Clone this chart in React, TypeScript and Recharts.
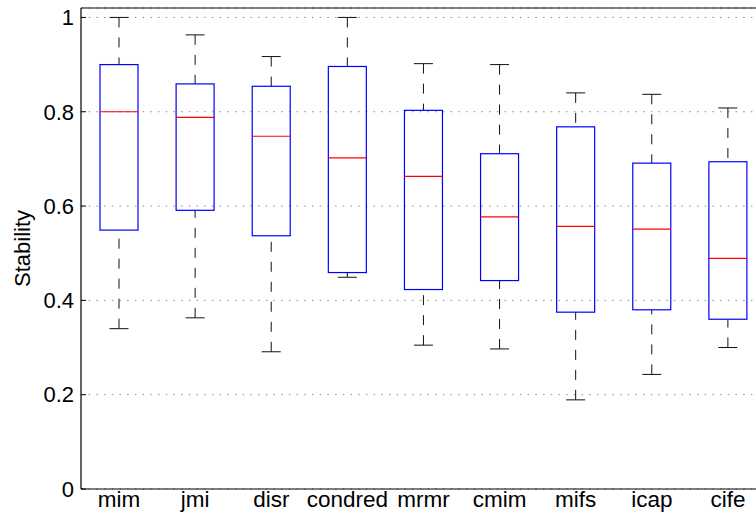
import { ComposedChart, Bar, XAxis, YAxis, CartesianGrid, ReferenceLine } from 'recharts'

const categories = ['mim', 'jmi', 'disr', 'condred', 'mrmr', 'cmim', 'mifs', 'icap', 'cife']
const lowerWhisker = [0.34, 0.363, 0.291, 0.449, 0.305, 0.297, 0.189, 0.243, 0.3]
const q1 = [0.549, 0.591, 0.537, 0.459, 0.423, 0.442, 0.375, 0.38, 0.36]
const median = [0.8, 0.788, 0.748, 0.702, 0.663, 0.577, 0.557, 0.551, 0.489]
const q3 = [0.9, 0.859, 0.854, 0.896, 0.803, 0.711, 0.768, 0.691, 0.694]
const upperWhisker = [1.0, 0.963, 0.917, 1.0, 0.902, 0.9, 0.84, 0.837, 0.808]
const yTicks = [0, 0.2, 0.4, 0.6, 0.8, 1]
const Y_MAX = 1.02

const data = categories.map((name, i) => ({
  name,
  lo: lowerWhisker[i],
  q1: q1[i],
  med: median[i],
  q3: q3[i],
  hi: upperWhisker[i],
}))

const FONT = '"Liberation Sans", Arial, Helvetica, sans-serif'

// box, median and whiskers; vertical positions come from the bar's own scaled box
function BoxShape(props: any) {
  const { x, y, width, height, payload } = props
  if (!payload || height == null) return null
  const top = Math.min(y, y + height)
  const h = Math.abs(height)
  const ppu = h / (payload.q3 - payload.q1)
  const yOf = (v: number) => top + (payload.q3 - v) * ppu
  const cx = x + width / 2
  const capHalf = width / 4
  const yHi = yOf(payload.hi)
  const yLo = yOf(payload.lo)
  const yMed = yOf(payload.med)
  const yBottom = top + h
  return (
    <g>
      <line x1={cx} x2={cx} y1={yHi} y2={top} stroke="#111" strokeWidth={1} strokeDasharray="10 10" />
      <line x1={cx} x2={cx} y1={yLo} y2={yBottom} stroke="#111" strokeWidth={1} strokeDasharray="10 10" />
      <line x1={cx - capHalf} x2={cx + capHalf} y1={yHi} y2={yHi} stroke="#111" strokeWidth={1} />
      <line x1={cx - capHalf} x2={cx + capHalf} y1={yLo} y2={yLo} stroke="#111" strokeWidth={1} />
      <rect x={x} y={top} width={width} height={h} fill="none" stroke="#0000ff" strokeWidth={1.2} />
      <line x1={x} x2={x + width} y1={yMed} y2={yMed} stroke="#ff0000" strokeWidth={1.2} />
    </g>
  )
}

function YTick(props: any) {
  const { x, y, payload } = props
  return (
    <g>
      <line x1={x + 7} x2={x + 12} y1={y} y2={y} stroke="#000" strokeWidth={1} />
      <text x={x} y={y} dy="0.355em" textAnchor="end" fontSize={22} fill="#000" fontFamily={FONT}>
        {String(payload.value)}
      </text>
    </g>
  )
}

function YLabel(props: any) {
  const { viewBox } = props
  const cx = 22
  const cy = viewBox.y + viewBox.height / 2
  return (
    <text
      x={cx}
      y={cy}
      dy="0.355em"
      textAnchor="middle"
      transform={`rotate(-90 ${cx} ${cy})`}
      fontSize={22}
      fill="#000"
      fontFamily={FONT}
    >
      Stability
    </text>
  )
}

export default function App() {
  return (
    <div style={{ position: 'absolute', left: 0, top: 0, width: 756, height: 516, overflow: 'hidden', background: '#fff' }}>
      <ComposedChart width={780} height={516} data={data} margin={{ top: 8, right: 14, bottom: 0, left: 0 }}>
        <CartesianGrid vertical={false} stroke="#888" strokeDasharray="1.5 6.2" />
        <XAxis
          dataKey="name"
          height={27}
          interval={0}
          tickLine={false}
          tickSize={0}
          tickMargin={2}
          axisLine={{ stroke: '#000', strokeWidth: 1.2 }}
          tick={{ fontSize: 22.5, fill: '#000', fontFamily: FONT }}
        />
        <YAxis
          width={81}
          domain={[0, Y_MAX]}
          ticks={yTicks}
          tickLine={false}
          tickSize={0}
          tickMargin={7}
          axisLine={{ stroke: '#000', strokeWidth: 1.2 }}
          tick={<YTick />}
          label={<YLabel />}
        />
        <ReferenceLine y={Y_MAX} stroke="#000" strokeWidth={1.2} />
        <Bar dataKey={(d: any) => [d.q1, d.q3]} barSize={38} shape={<BoxShape />} isAnimationActive={false} />
      </ComposedChart>
    </div>
  )
}
